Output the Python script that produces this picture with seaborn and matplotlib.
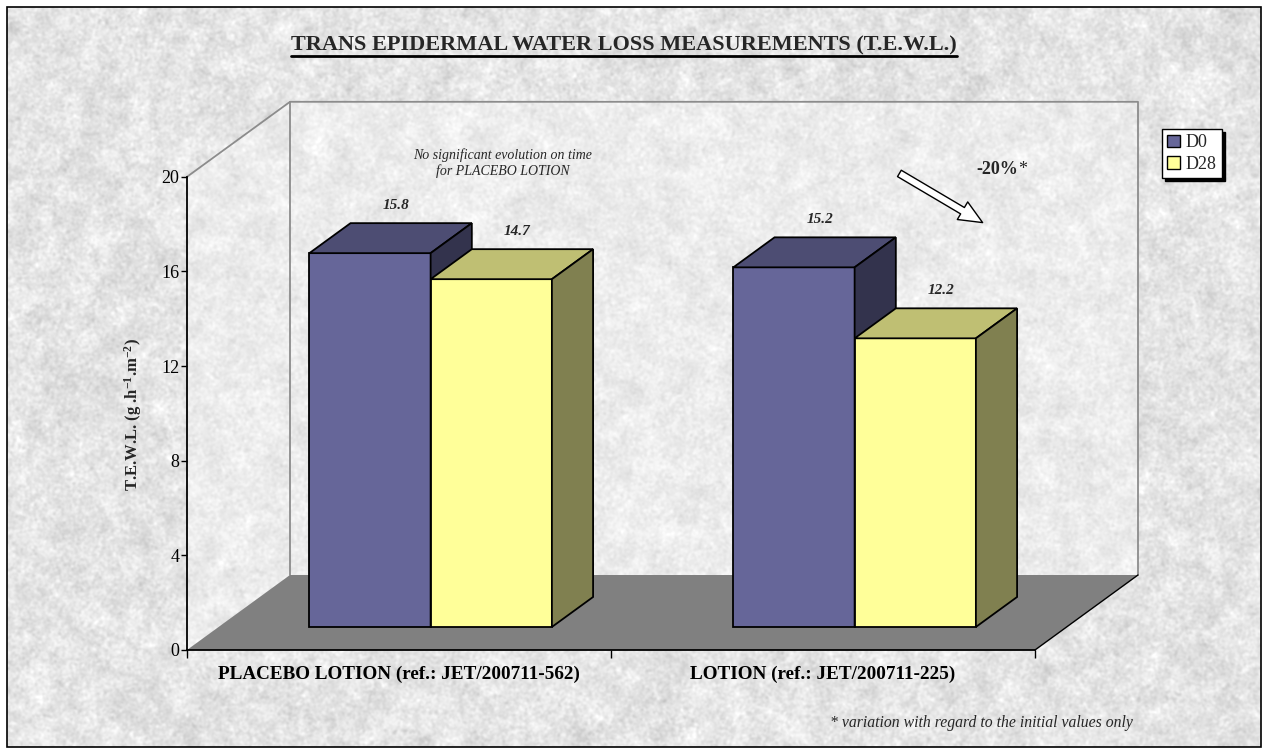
import numpy as np
import pandas as pd
import matplotlib
matplotlib.use("Agg")
import matplotlib.pyplot as plt
import seaborn as sns
from matplotlib.patches import Polygon, Rectangle, Patch, FancyArrowPatch
from matplotlib.lines import Line2D

# ---- data -------------------------------------------------------------
products = ["PLACEBO LOTION (ref.: JET/200711-562)", "LOTION (ref.: JET/200711-225)"]
visits = ["D0", "D28"]
d0_values = [15.8, 15.2]
d28_values = [14.7, 12.2]
y_ticks = [0, 4, 8, 12, 16, 20]

title = "TRANS EPIDERMAL WATER LOSS MEASUREMENTS (T.E.W.L.)"
note = "No significant evolution on time\nfor PLACEBO LOTION"
footnote = "* variation with regard to the initial values only"
variation = "-20%"

# ---- style ------------------------------------------------------------
sns.set_theme(style="white")
plt.rcParams["font.family"] = ["Liberation Serif", "DejaVu Serif"]
plt.rcParams["mathtext.fontset"] = "custom"
plt.rcParams["mathtext.rm"] = "Liberation Serif"
plt.rcParams["mathtext.bf"] = "Liberation Serif:bold"

front_colors = {"D0": "#666699", "D28": "#ffff99"}
top_colors = {"D0": "#4d4d73", "D28": "#bfbf73"}
side_colors = {"D0": "#33334d", "D28": "#808050"}
floor_color = "#808080"
wall_edge = "#8c8c8c"

W, H = 1266, 754
fig = plt.figure(figsize=(W / 100, H / 100), dpi=100)
fig.patch.set_facecolor("white")


def fx(px):
    return px / W


def fy(py):
    return 1 - py / H


# ---- paper-like textured background --------------------------------------
def blur(a, s):
    ky = np.fft.fftfreq(a.shape[0])[:, None]
    kx = np.fft.fftfreq(a.shape[1])[None, :]
    g = np.exp(-2 * (np.pi * s) ** 2 * (ky ** 2 + kx ** 2))
    return np.real(np.fft.ifft2(np.fft.fft2(a) * g))


rng = np.random.default_rng(11)
shape = (740, 1254)
fine = blur(rng.normal(size=shape), 1.2)
coarse = blur(rng.normal(size=shape), 6.0)
tex = 0.895 + 0.022 * fine / fine.std() + 0.018 * coarse / coarse.std()
tex = np.clip(tex, 0, 1)

bg = fig.add_axes([0, 0, 1, 1], zorder=-10)
bg.set_xlim(0, W)
bg.set_ylim(H, 0)
bg.axis("off")
bg.imshow(tex, cmap="gray", vmin=0, vmax=1, extent=(7, 1261, 747, 7),
          interpolation="bilinear", aspect="auto")
bg.add_patch(Rectangle((7, 7), 1254, 740, fill=False, edgecolor="black", lw=1.2))

# ---- main axes (front plane of the 3-D box) ----------------------------
px_per_cat = 424.0
px_per_unit = 23.66
ax = fig.add_axes([fx(187), fy(650), (1140 - 187) / W, (650 - 101) / H])
ax.patch.set_alpha(0)

df = pd.DataFrame({
    "product": products * 2,
    "visit": [visits[0]] * len(products) + [visits[1]] * len(products),
    "tewl": d0_values + d28_values,
})

sns.barplot(data=df, x="product", y="tewl", hue="visit", hue_order=visits,
            palette=front_colors, width=0.572, saturation=1,
            edgecolor="black", linewidth=1.3, legend=False, ax=ax)

x_left, x_right = -0.5, 1.5
ax.set_xlim(x_left, x_left + (1140 - 187) / px_per_cat)
ax.set_ylim(0, (650 - 101) / px_per_unit)

# depth of the box and of the bars (data units)
DX = 103 / px_per_cat
DY = 75 / px_per_unit
bar_front = 0.307   # fraction of total depth where bar fronts sit
bar_depth = 0.40    # fraction of total depth occupied by bars
top_val = y_ticks[-1]

# walls
left_wall = [(x_left, 0), (x_left, top_val), (x_left + DX, top_val + DY), (x_left + DX, DY)]
back_wall = [(x_left + DX, DY), (x_left + DX, top_val + DY),
             (x_right + DX, top_val + DY), (x_right + DX, DY)]
for poly in (left_wall, back_wall):
    ax.add_patch(Polygon(poly, closed=True, facecolor="white", alpha=0.3,
                         edgecolor="none", zorder=0.3, clip_on=False))
ax.add_line(Line2D([x_left, x_left + DX, x_right + DX, x_right + DX],
                   [top_val, top_val + DY, top_val + DY, DY],
                   color=wall_edge, lw=1.3, zorder=0.4, clip_on=False))
ax.add_line(Line2D([x_left + DX, x_left + DX], [DY, top_val + DY],
                   color=wall_edge, lw=1.3, zorder=0.4, clip_on=False))

# floor
floor = [(x_left, 0), (x_right, 0), (x_right + DX, DY), (x_left + DX, DY)]
ax.add_patch(Polygon(floor, closed=True, facecolor=floor_color, edgecolor="none",
                     zorder=0.5, clip_on=False))
ax.add_line(Line2D([x_right, x_right + DX], [0, DY], color="black", lw=1.0,
                   zorder=0.6, clip_on=False))

# turn the flat bars into boxes
fdx, fdy = bar_front * DX, bar_front * DY
ddx, ddy = bar_depth * DX, bar_depth * DY
for level, container in zip(visits, ax.containers):
    z = 2 + visits.index(level)
    for bar in container:
        x0 = bar.get_x() + fdx
        w = bar.get_width()
        v = bar.get_height()
        y0 = fdy
        bar.set_x(x0)
        bar.set_y(y0)
        bar.set_zorder(z)
        bar.set_clip_on(False)
        top = [(x0, y0 + v), (x0 + w, y0 + v), (x0 + w + ddx, y0 + v + ddy), (x0 + ddx, y0 + v + ddy)]
        side = [(x0 + w, y0), (x0 + w + ddx, y0 + ddy), (x0 + w + ddx, y0 + v + ddy), (x0 + w, y0 + v)]
        ax.add_patch(Polygon(top, closed=True, facecolor=top_colors[level], edgecolor="black",
                             lw=1.3, joinstyle="miter", zorder=z + 0.1, clip_on=False))
        ax.add_patch(Polygon(side, closed=True, facecolor=side_colors[level], edgecolor="black",
                             lw=1.3, joinstyle="miter", zorder=z + 0.1, clip_on=False))
        ax.annotate(f"{v:.1f}", xy=(x0 + w / 2 + ddx, y0 + v + ddy), xytext=(-15, 18),
                    textcoords="offset pixels", ha="center", va="center",
                    fontsize=11, fontweight="bold", fontstyle="italic", zorder=6)

# axes lines and ticks
for s in ("top", "right"):
    ax.spines[s].set_visible(False)
ax.spines["left"].set_bounds(0, top_val)
ax.spines["bottom"].set_bounds(x_left, x_right)
for s in ("left", "bottom"):
    ax.spines[s].set_color("black")
    ax.spines[s].set_linewidth(1.3)
    ax.spines[s].set_zorder(1)

ax.set_yticks(y_ticks)
ax.set_yticklabels([str(t) for t in y_ticks])
ax.tick_params(axis="y", direction="out", length=4.5, width=1, color="black",
               labelsize=13, pad=1, left=True, labelcolor="black")
ax.set_xticks([x_left, (x_left + x_right) / 2, x_right])
ax.set_xticklabels(["", "", ""])
ax.tick_params(axis="x", which="major", direction="out", length=6, width=1,
               color="black", bottom=True)
ax.set_xticks([0, 1], minor=True)
ax.set_xticklabels(products, minor=True, fontsize=13.8, fontweight="bold")
ax.tick_params(axis="x", which="minor", length=0, pad=11, labelcolor="black")
ax.set_xlabel("")
ax.set_ylabel("")

# legend with dropped shadow
handles = [Patch(facecolor=front_colors[v], edgecolor="black", lw=1) for v in visits]
leg = ax.legend(handles, visits, loc="upper left", bbox_to_anchor=(fx(1162), fy(129)),
                bbox_transform=fig.transFigure, fontsize=13, frameon=True,
                fancybox=False, framealpha=1, edgecolor="black",
                shadow={"color": "black", "alpha": 1},
                handlelength=0.7, handleheight=0.7, handletextpad=0.3,
                labelspacing=0.25, borderpad=0.3, borderaxespad=0)
leg.get_frame().set_linewidth(1.0)

# ---- texts around the chart -----------------------------------------
fig.text(fx(133), fy(415), r"T.E.W.L. (g .h$\mathbf{^{-1}}$.m$\mathbf{^{-2}}$)",
         rotation=90, ha="center", va="center", fontsize=12, fontweight="bold")
t_title = fig.text(fx(624), fy(45), title, ha="center", va="center",
                   fontsize=16, fontweight="bold")
fig.text(fx(503), fy(163), note, ha="center", va="center", fontsize=10,
         fontstyle="italic", linespacing=1.2)
fig.text(fx(830), fy(723), footnote, ha="left", va="center", fontsize=11.3,
         fontstyle="italic")
fig.text(fx(1018), fy(174), variation, ha="right", va="baseline", fontsize=13,
         fontweight="bold")
fig.text(fx(1018), fy(174), "*", ha="left", va="baseline", fontsize=13)

arrow = FancyArrowPatch((fx(897), fy(172)), (fx(985), fy(224)), transform=fig.transFigure,
                        arrowstyle="simple,head_length=1.2,head_width=1.05,tail_width=0.38",
                        mutation_scale=14, facecolor="white", edgecolor="black", lw=1.0)
fig.add_artist(arrow)

# underline the title
fig.canvas.draw()
bb = t_title.get_window_extent()
inv = fig.transFigure.inverted()
(ux0, uy), (ux1, _) = inv.transform([(bb.x0, bb.y0 - 1), (bb.x1, bb.y0 - 1)])
fig.add_artist(Line2D([ux0, ux1], [uy, uy], transform=fig.transFigure,
                      color="black", lw=2.0))

fig.savefig("out.png", dpi=100)
